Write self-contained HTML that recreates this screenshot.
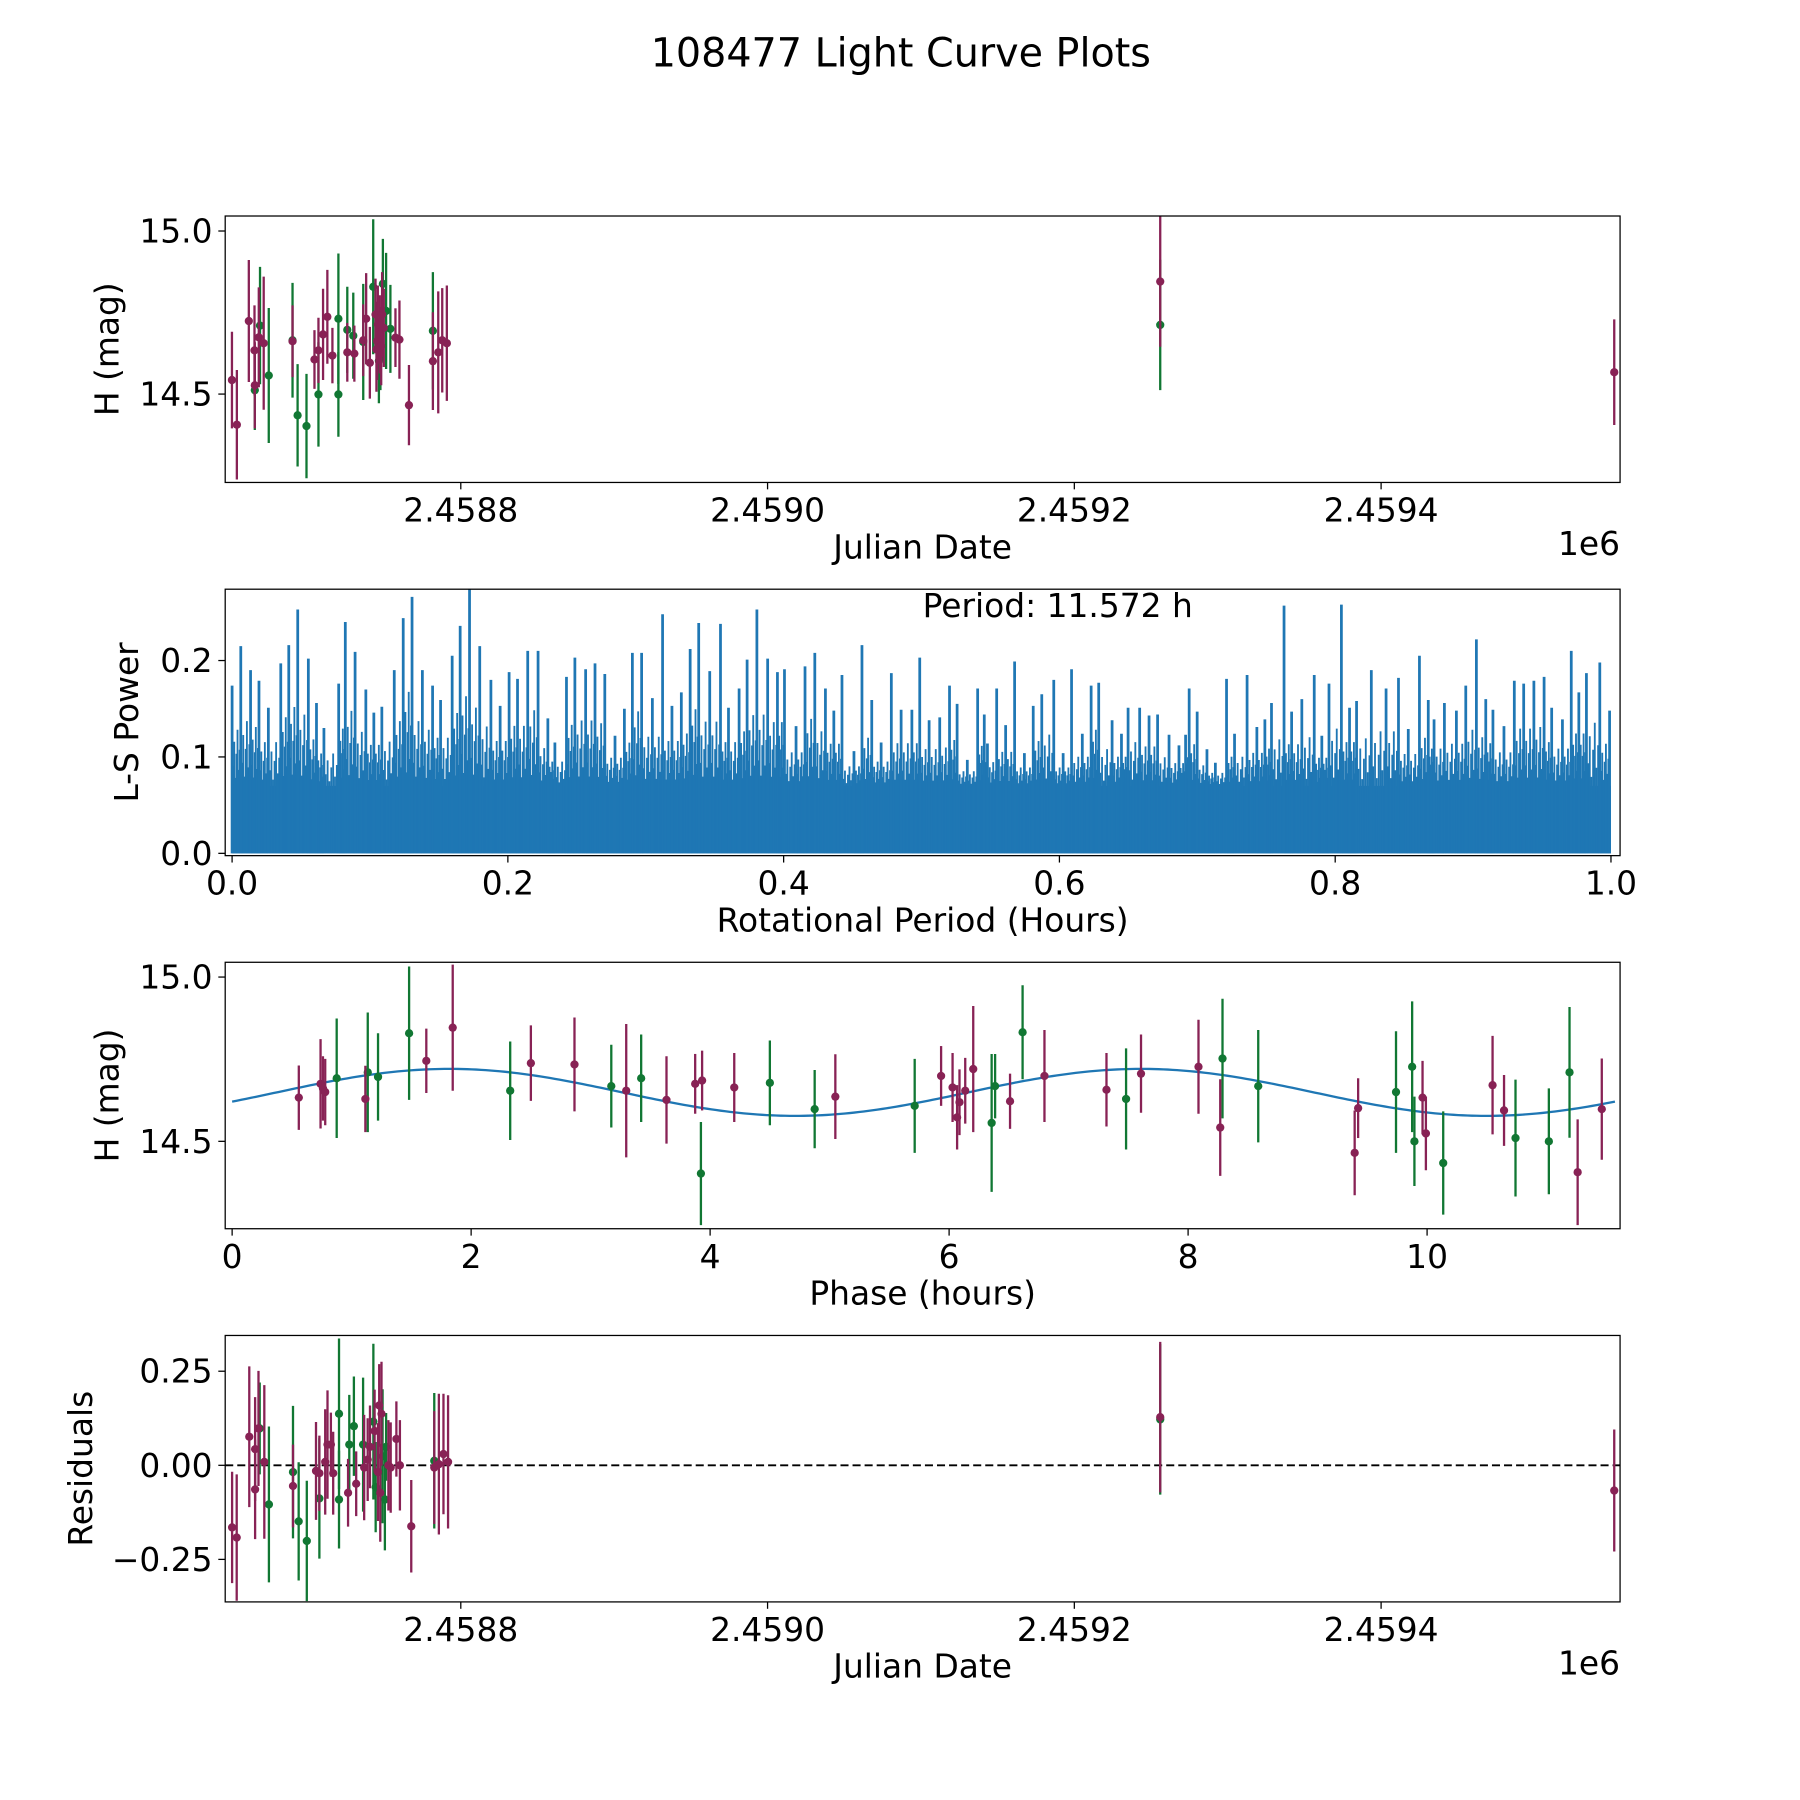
<!DOCTYPE html>
<html><head><meta charset="utf-8">
<style>
html,body{margin:0;padding:0;background:#fff;}
svg{display:block;}
text{font-family:"DejaVu Sans","Liberation Sans",sans-serif;fill:#000;}
</style></head>
<body>
<svg id="fig" xmlns="http://www.w3.org/2000/svg" width="1800" height="1800" viewBox="0 0 1566.6 1566.6">
<rect x="0" y="0" width="1566.6" height="1566.6" fill="#fff"/>
<text x="784" y="58" font-size="34.5" text-anchor="middle">108477 Light Curve Plots</text>
</svg>
<script>
// ---------- Panel 1 data: observed magnitudes vs Julian Date ----------
const p1Date = [2458650.8,2458654.0,2458661.8,2458665.5,2458665.7,2458665.7,2458669.1,2458668.3,2458671.5,2458674.8,
2458690.3,2458690.3,2458693.6,2458699.4,2458704.6,2458707.2,2458707.2,2458710.2,2458713.0,2458716.3,
2458720.2,2458720.2,2458726.0,2458726.0,2458729.9,2458730.6,2458736.4,2458738.3,2458736.4,2458740.7,
2458742.9,2458744.4,2458745.5,2458746.6,2458747.6,2458749.2,2458751.3,2458749.8,2458754.1,2458757.4,
2458760.0,2458766.2,2458781.8,2458781.8,2458785.3,2458787.9,2458790.9,2458745.9,2458747.2,2458748.7,
2458748.1,2458745.0,2459256.0,2459256.0,2459552.0];
const p1Mag = [14.543,14.406,14.724,14.634,14.527,14.512,14.710,14.674,14.656,14.557,
14.665,14.662,14.435,14.402,14.606,14.634,14.499,14.683,14.737,14.618,
14.731,14.499,14.697,14.628,14.679,14.624,14.660,14.731,14.665,14.596,
14.829,14.744,14.663,14.602,14.612,14.838,14.755,14.703,14.700,14.673,
14.667,14.466,14.694,14.601,14.628,14.665,14.656,14.713,14.683,14.744,
14.647,14.637,14.845,14.712,14.567];
const p1Err = [0.148,0.168,0.187,0.138,0.132,0.122,0.180,0.153,0.204,0.207,
0.176,0.110,0.157,0.160,0.090,0.100,0.160,0.140,0.144,0.085,
0.200,0.130,0.132,0.090,0.132,0.086,0.178,0.140,0.110,0.110,
0.207,0.110,0.120,0.130,0.100,0.138,0.178,0.120,0.135,0.090,
0.120,0.123,0.180,0.150,0.187,0.160,0.177,0.120,0.120,0.130,
0.120,0.130,0.200,0.200,0.162];
const p1Band = ["m","m","m","m","m","g","g","m","m","g",
"g","m","g","g","m","m","g","m","m","m",
"g","g","g","m","g","m","g","m","m","m",
"g","m","m","g","g","g","g","m","g","m",
"m","m","g","m","m","m","m","m","m","m",
"m","m","m","g","m"];
const p1XTicks = [2458800,2459000,2459200,2459400];
const p1XTickLabels = ["2.4588","2.4590","2.4592","2.4594"];
const p1YTicks = [14.5,15.0];
const p1YTickLabels = ["14.5","15.0"];

// ---------- Panel 2 data: Lomb-Scargle periodogram peaks ----------
const lsPeriod = [0.0,0.0063,0.0134,0.0195,0.0263,0.0353,0.0411,0.0476,0.0553,0.0612,0.0666,0.0773,0.0821,0.0892,0.097,0.1028,0.1086,0.1176,0.1241,0.1305,
0.138,0.1454,0.1512,0.1596,0.1654,0.1722,0.1796,0.1877,0.1944,0.2009,0.207,0.2144,0.2219,0.229,0.2341,0.2425,0.2486,0.2564,0.2632,0.2703,
0.2777,0.2845,0.2903,0.297,0.3048,0.3122,0.319,0.3258,0.3322,0.3384,0.3464,0.3542,0.36,0.3677,0.3735,0.3806,0.3884,0.3955,0.4006,0.409,
0.4155,0.4226,0.4303,0.4364,0.4423,0.451,0.4568,0.4639,0.4707,0.4781,0.4852,0.493,0.4987,
0.5055,0.5132,0.5203,0.5258,0.5332,0.5407,0.5455,0.5478,0.5545,0.561,0.5675,0.5746,0.581,0.5872,0.5959,0.6027,0.6088,0.6166,0.623,0.6285,
0.6382,0.645,0.6498,0.6582,0.665,0.6712,0.6795,0.6867,0.6915,0.6941,0.6999,0.707,0.7131,0.7212,0.727,0.7361,0.7432,0.749,0.7538,0.7629,
0.7684,0.7758,0.7848,0.7903,0.7955,0.8045,0.8104,0.8155,0.8262,0.8369,0.8459,0.853,0.8611,0.8675,0.8717,0.8792,0.8879,0.8947,0.9024,0.9092,
0.9144,0.9224,0.9299,0.9367,0.9441,0.9515,0.957,0.9648,0.9712,0.9767,0.9822,0.9919,0.999];
const lsPower = [0.174,0.215,0.190,0.179,0.151,0.197,0.216,0.253,0.202,0.156,0.130,0.176,0.240,0.209,0.170,0.146,0.152,0.190,0.244,0.266,
0.190,0.174,0.159,0.205,0.236,0.274,0.215,0.180,0.153,0.188,0.181,0.210,0.210,0.140,0.115,0.183,0.203,0.191,0.197,0.186,
0.122,0.150,0.208,0.208,0.161,0.248,0.153,0.167,0.212,0.239,0.189,0.238,0.151,0.171,0.201,0.253,0.202,0.188,0.191,0.132,
0.194,0.208,0.171,0.148,0.185,0.106,0.216,0.159,0.115,0.187,0.149,0.149,0.203,
0.138,0.141,0.174,0.155,0.097,0.171,0.144,0.114,0.171,0.133,0.199,0.104,0.153,0.165,0.180,0.104,0.191,0.124,0.174,0.177,
0.138,0.124,0.151,0.151,0.143,0.144,0.123,0.112,0.123,0.171,0.147,0.108,0.094,0.181,0.124,0.185,0.131,0.139,0.156,0.257,
0.147,0.160,0.185,0.122,0.176,0.258,0.151,0.158,0.190,0.171,0.182,0.129,0.205,0.159,0.139,0.156,0.148,0.174,0.222,0.160,
0.149,0.132,0.179,0.176,0.179,0.183,0.151,0.139,0.210,0.167,0.187,0.198,0.148];
const lsXTicks = [0.0,0.2,0.4,0.6,0.8,1.0];
const lsXTickLabels = ["0.0","0.2","0.4","0.6","0.8","1.0"];
const lsYTicks = [0.0,0.1,0.2];
const lsYTickLabels = ["0.0","0.1","0.2"];
const lsNoiseFloor = 0.07;

// ---------- Panel 3 data: phase-folded light curve ----------
const phPhase = [0.558,0.740,0.760,0.779,0.875,1.115,1.135,1.221,1.481,1.625,1.846,2.327,2.500,2.865,3.173,3.298,3.423,3.635,3.875,3.933,
3.923,4.202,4.500,4.875,5.048,5.712,5.933,6.029,6.067,6.087,6.135,6.202,6.356,6.385,6.510,6.615,6.798,7.317,7.481,7.606,
8.087,8.269,8.288,8.587,9.394,9.423,9.740,9.875,9.894,9.962,9.990,10.135,10.548,10.644,10.740,11.019,11.192,11.260,11.462];
const phMag = [14.633,14.675,14.661,14.650,14.692,14.629,14.710,14.696,14.829,14.745,14.846,14.654,14.738,14.734,14.668,14.654,14.692,14.626,14.675,14.685,
14.402,14.664,14.678,14.598,14.636,14.608,14.699,14.664,14.573,14.619,14.654,14.720,14.556,14.668,14.622,14.832,14.699,14.657,14.629,14.706,
14.727,14.542,14.752,14.668,14.465,14.601,14.650,14.727,14.500,14.633,14.524,14.434,14.671,14.594,14.510,14.500,14.710,14.406,14.598];
const phErr = [0.098,0.136,0.098,0.101,0.182,0.101,0.182,0.133,0.203,0.098,0.192,0.150,0.115,0.143,0.126,0.203,0.133,0.133,0.091,0.091,
0.157,0.105,0.129,0.119,0.129,0.143,0.091,0.105,0.098,0.100,0.100,0.192,0.210,0.098,0.084,0.143,0.140,0.112,0.154,0.119,
0.143,0.147,0.182,0.171,0.129,0.091,0.185,0.199,0.136,0.112,0.112,0.157,0.150,0.108,0.178,0.161,0.199,0.161,0.154];
const phBand = ["m","m","m","m","g","m","g","g","g","m","m","g","m","m","g","m","g","m","m","m",
"g","m","g","g","m","g","m","m","m","m","m","m","g","g","m","g","m","m","g","m",
"m","m","g","g","m","m","g","g","g","m","m","g","m","m","g","g","g","m","m"];
const fitPeriodHours = 11.572;
const fitMean = 14.649;
const fitAmp = 0.0715;
const fitPeakPhase = 1.82;
const phXTicks = [0,2,4,6,8,10];
const phXTickLabels = ["0","2","4","6","8","10"];
const phYTicks = [14.5,15.0];
const phYTickLabels = ["14.5","15.0"];

// ---------- Panel 4 data: residuals vs Julian Date ----------
const rDate = [2458650.9,2458653.9,2458662.1,2458665.9,2458665.9,2458668.1,2458668.9,2458671.9,2458674.9,2458690.6,2458690.6,2458694.3,2458699.6,
2458705.6,2458707.8,2458707.8,2458711.6,2458713.1,2458715.3,2458716.8,2458720.6,2458720.6,2458726.5,2458727.3,2458730.3,2458731.8,2458736.3,
2458737.0,2458739.3,2458740.8,2458743.0,2458743.8,2458744.5,2458746.0,2458746.8,2458747.5,2458748.3,2458749.0,2458750.5,2458751.3,2458752.8,
2458754.3,2458758.0,2458760.3,2458767.7,2458782.7,2458782.7,2458785.7,2458788.7,2458791.7,2459256.0,2459256.0,2459552.0];
const rResid = [-0.165,-0.192,0.076,0.043,-0.064,0.098,0.098,0.009,-0.104,-0.018,-0.055,-0.149,-0.201,
-0.015,-0.021,-0.088,0.009,0.055,0.055,-0.021,0.137,-0.091,-0.073,0.055,0.104,-0.049,0.055,
-0.006,0.015,0.049,0.116,0.091,-0.058,-0.018,0.159,-0.073,0.137,0.024,-0.091,0.049,0.000,
-0.006,0.070,0.000,-0.162,0.012,-0.006,0.003,0.030,0.009,0.128,0.122,-0.067];
const rErr = [0.148,0.168,0.187,0.138,0.132,0.153,0.122,0.204,0.207,0.176,0.110,0.157,0.160,
0.130,0.100,0.160,0.140,0.144,0.085,0.110,0.200,0.130,0.090,0.132,0.132,0.086,0.178,
0.140,0.110,0.110,0.207,0.110,0.120,0.130,0.110,0.130,0.138,0.178,0.135,0.090,0.120,
0.120,0.100,0.120,0.123,0.180,0.150,0.187,0.160,0.177,0.200,0.200,0.162];
const rBand = ["m","m","m","m","m","m","g","m","g","g","m","g","g",
"m","m","g","m","m","m","m","g","g","m","g","g","m","g",
"m","m","m","g","m","g","m","m","m","m","g","g","g","m",
"m","m","m","m","g","m","m","m","m","m","g","m"];
const rYTicks = [-0.25,0.0,0.25];
const rYTickLabels = ["\u22120.25","0.00","0.25"];

// ---------- rendering ----------
const NS = "http://www.w3.org/2000/svg";
const svg = document.getElementById("fig");
const COL = {m:"#882255", g:"#117733"};
const L = 196, R = 1410, H = 231.9;
const TOPS = [188.0, 512.8, 837.5, 1162.3];
const FS = 28.6;
const FILL_FACTORS = [0.25,0.55,0.1,0.4,0.7,0.2,0.45];

function mk(tag, attrs, parent){
  const e = document.createElementNS(NS, tag);
  for (const k in attrs) e.setAttribute(k, attrs[k]);
  (parent||svg).appendChild(e);
  return e;
}
function linScale(d0,d1,r0,r1){ return v => r0 + (v-d0)/(d1-d0)*(r1-r0); }

function makePanel(idx, xd, yd, name){
  const top = TOPS[idx], bot = top + H;
  const g = mk("g", {});
  
  
  const cp = mk("clipPath", {id:"clip"+idx}, g);
  mk("rect", {x:L, y:top, width:R-L, height:H}, cp);
  const plot = mk("g", {"clip-path":"url(#clip"+idx+")"}, g);
  
  
  return {g, plot, top, bot, x:linScale(xd[0],xd[1],L,R), y:linScale(yd[0],yd[1],bot,top)};
}
function frame(P){
  const f = mk("rect", {x:L, y:P.top, width:R-L, height:H, fill:"none", stroke:"#000", "stroke-width":1.1}, P.g);
  
  
}
function xTicks(P, vals, labels){
  vals.forEach((v,i)=>{
    const px = P.x(v);
    const t = mk("line", {x1:px, x2:px, y1:P.bot, y2:P.bot+6, stroke:"#000", "stroke-width":1.1}, P.g);
    
    
    const tx = mk("text", {x:px, y:P.bot+34, "font-size":FS, "text-anchor":"middle"}, P.g);
    tx.textContent = labels[i];
    
    
  });
}
function yTicks(P, vals, labels){
  vals.forEach((v,i)=>{
    const py = P.y(v);
    const t = mk("line", {x1:L-6, x2:L, y1:py, y2:py, stroke:"#000", "stroke-width":1.1}, P.g);
    
    
    const tx = mk("text", {x:L-11, y:py+10, "font-size":FS, "text-anchor":"end"}, P.g);
    tx.textContent = labels[i];
    
    
  });
}
function xLabel(P, txt, name){
  const t = mk("text", {x:(L+R)/2, y:P.bot+66, "font-size":FS, "text-anchor":"middle"}, P.g);
  t.textContent = txt;
  
  
}
function yLabel(P, txt, cx, name){
  const cy = P.top + H/2;
  const t = mk("text", {x:cx, y:cy, "font-size":FS, "text-anchor":"middle", transform:"rotate(-90 "+cx+" "+cy+")"}, P.g);
  t.textContent = txt;
  
  
}
function offsetLabel(P){
  const t = mk("text", {x:R, y:P.bot+63, "font-size":FS, "text-anchor":"end"}, P.g);
  t.textContent = "1e6";
  
  
}
function errPoints(P, xs, ys, es, bands){
  ["g","m"].forEach(b=>{
    for (let i=0;i<xs.length;i++){
      if (bands[i]!==b) continue;
      const px = P.x(xs[i]), py = P.y(ys[i]);
      const ln = mk("line", {x1:px, x2:px, y1:P.y(ys[i]-es[i]), y2:P.y(ys[i]+es[i]), stroke:COL[b], "stroke-width":2}, P.plot);
      
      
      const c = mk("circle", {cx:px, cy:py, r:3.6, fill:COL[b]}, P.plot);
      
      
    }
  });
}

// Panel 1
const P1 = makePanel(0, [2458646.4, 2459555.8], [14.229, 15.046], "light-curve-panel");
errPoints(P1, p1Date, p1Mag, p1Err, p1Band);
frame(P1); xTicks(P1, p1XTicks, p1XTickLabels); yTicks(P1, p1YTicks, p1YTickLabels);
xLabel(P1, "Julian Date", "x-axis-title"); yLabel(P1, "H (mag)", 103, "y-axis-title"); offsetLabel(P1);

// Panel 2
const P2 = makePanel(1, [-0.005, 1.0066], [-0.0024, 0.274], "periodogram-panel");
const base = mk("rect", {x:P2.x(0.0), y:P2.y(lsNoiseFloor), width:P2.x(1.0)-P2.x(0.0), height:P2.y(0)-P2.y(lsNoiseFloor), fill:"#1f77b4"}, P2.plot);


for (let i=0;i<lsPeriod.length;i++){
  if (i < lsPeriod.length-1){
    const nb = Math.min(lsPower[i], lsPower[i+1]);
    const n = FILL_FACTORS.length;
    for (let k=0;k<n;k++){
      const f = lsPeriod[i] + (lsPeriod[i+1]-lsPeriod[i])*(k+1)/(n+1);
      const h = lsNoiseFloor + (nb - lsNoiseFloor) * FILL_FACTORS[k] * 0.8;
      const m = mk("line", {x1:P2.x(f), x2:P2.x(f), y1:P2.y(0), y2:P2.y(h), stroke:"#1f77b4", "stroke-width":1.6}, P2.plot);
      
      
    }
  }
  const px = P2.x(lsPeriod[i]);
  const s = mk("line", {x1:px, x2:px, y1:P2.y(0), y2:P2.y(lsPower[i]), stroke:"#1f77b4", "stroke-width":2.4}, P2.plot);
  
  
}
frame(P2); xTicks(P2, lsXTicks, lsXTickLabels); yTicks(P2, lsYTicks, lsYTickLabels);
xLabel(P2, "Rotational Period (Hours)", "x-axis-title"); yLabel(P2, "L-S Power", 120, "y-axis-title");
const per = mk("text", {x:803, y:537, "font-size":FS}, P2.g);
per.textContent = "Period: " + fitPeriodHours.toFixed(3) + " h";



// Panel 3
const P3 = makePanel(2, [-0.058, 11.615], [14.234, 15.045], "phase-fold-panel");
let d = "";
for (let i=0;i<=300;i++){
  const p = fitPeriodHours*i/300;
  const m = fitMean + fitAmp*Math.cos(2*Math.PI*(p-fitPeakPhase)/(fitPeriodHours/2));
  d += (i?"L":"M") + P3.x(p).toFixed(2) + " " + P3.y(m).toFixed(2);
}
const fit = mk("path", {d:d, fill:"none", stroke:"#1f77b4", "stroke-width":2}, P3.plot);


errPoints(P3, phPhase, phMag, phErr, phBand);
frame(P3); xTicks(P3, phXTicks, phXTickLabels); yTicks(P3, phYTicks, phYTickLabels);
xLabel(P3, "Phase (hours)", "x-axis-title"); yLabel(P3, "H (mag)", 103, "y-axis-title");

// Panel 4
const P4 = makePanel(3, [2458646.4, 2459555.8], [-0.363, 0.345], "residuals-panel");
const zl = mk("line", {x1:L, x2:R, y1:P4.y(0), y2:P4.y(0), stroke:"#000", "stroke-width":1.7, "stroke-dasharray":"7,3.5"}, P4.plot);


errPoints(P4, rDate, rResid, rErr, rBand);
frame(P4); xTicks(P4, p1XTicks, p1XTickLabels); yTicks(P4, rYTicks, rYTickLabels);
xLabel(P4, "Julian Date", "x-axis-title"); yLabel(P4, "Residuals", 80, "y-axis-title"); offsetLabel(P4);
</script>
</body></html>
